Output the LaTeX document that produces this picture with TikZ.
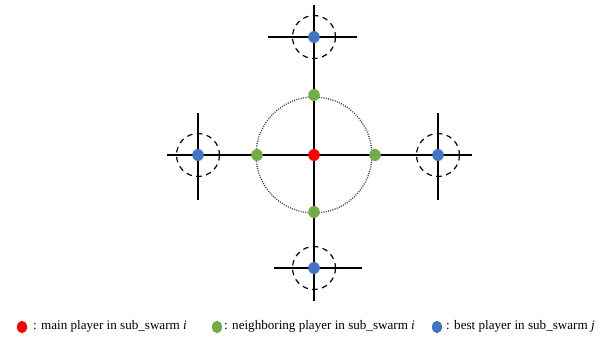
\documentclass[tikz,border=0pt]{standalone}
\usepackage{fontspec}
\setmainfont{Liberation Serif}
\usetikzlibrary{shapes.geometric}
\begin{document}
\begin{tikzpicture}[x=1pt,y=-1pt,
  dot/.style={ellipse,inner sep=0pt,minimum width=11.5pt,minimum height=12pt},
  legdot/.style={ellipse,inner sep=0pt,minimum width=10pt,minimum height=12.5pt},
  redfill/.style={fill={rgb,255:red,255;green,0;blue,0}},
  greenfill/.style={fill={rgb,255:red,112;green,173;blue,71}},
  bluefill/.style={fill={rgb,255:red,68;green,114;blue,196}},
  axisline/.style={line width=1.8pt,black},
  crossline/.style={line width=1.3pt,black},
  bestrange/.style={line width=1.2pt,dash pattern=on 5.5pt off 4.5pt},
  neigh/.style={line width=1.3pt,dash pattern=on 1pt off 1.3pt,black!75},
  legend/.style={anchor=west,inner sep=0pt,font=\fontsize{13.1}{15}\selectfont}
]
\useasboundingbox (0,0) rectangle (607,339);
% axis endpoints
\coordinate (aL) at (167,155);
\coordinate (aR) at (472,155);
\coordinate (aT) at (314,5);
\coordinate (aB) at (314,301);
% cross endpoints
\coordinate (tL) at (268,37); \coordinate (tR) at (357,37);
\coordinate (bL) at (274,268); \coordinate (bR) at (362,268);
\coordinate (lT) at (198,113); \coordinate (lB) at (198,200);
\coordinate (rT) at (438,113); \coordinate (rB) at (438,200);
\draw[axisline] (aL) -- (aR);
\draw[axisline] (aT) -- (aB);
\draw[crossline] (tL) -- (tR);
\draw[crossline] (bL) -- (bR);
\draw[crossline] (lT) -- (lB);
\draw[crossline] (rT) -- (rB);
% neighbourhood circle
\coordinate (c) at (314,155);
\draw[neigh] (c) circle[radius=58];
% ranges around best players
\draw[bestrange] (314,37) circle[radius=21.5];
\draw[bestrange] (314,268) circle[radius=21.5];
\draw[bestrange] (198,155) circle[radius=21.5];
\draw[bestrange] (438,155) circle[radius=21.5];
% players
\node[dot,redfill] (main) at (314,155) {};
\node[dot,greenfill] (gT) at (314,95) {};
\node[dot,greenfill] (gB) at (314,212) {};
\node[dot,greenfill] (gL) at (257,155) {};
\node[dot,greenfill] (gR) at (375,155) {};
\node[dot,bluefill] (bT) at (314,37) {};
\node[dot,bluefill] (bB) at (314,268) {};
\node[dot,bluefill] (bLf) at (198,155) {};
\node[dot,bluefill] (bRt) at (438,155) {};
% legend
\node[legdot,redfill] (l1) at (22,327) {};
\node[legend] (t1) at (33,326) {: main player in sub\_swarm \textit{i}};
\node[legdot,greenfill] (l2) at (217,327) {};
\node[legend] (t2) at (224,326) {: neighboring player in sub\_swarm \textit{i}};
\node[legdot,bluefill] (l3) at (437,327) {};
\node[legend] (t3) at (446,326) {: best player in sub\_swarm \textit{j}};
\end{tikzpicture}
\end{document}
